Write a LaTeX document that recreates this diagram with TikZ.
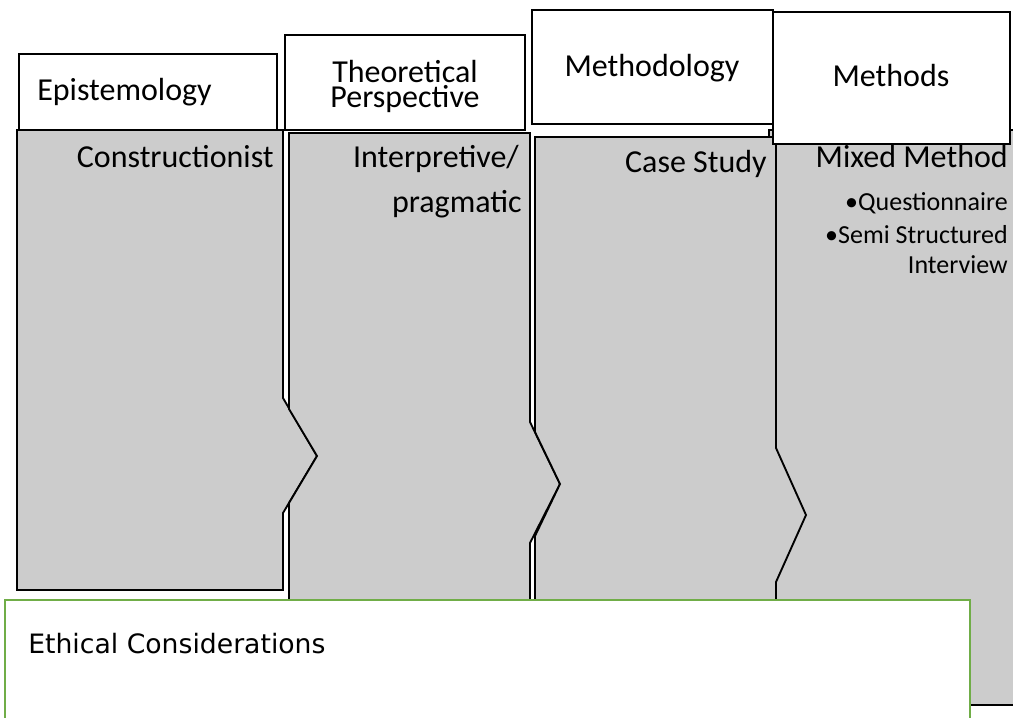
\documentclass[tikz,border=0pt]{standalone}
\usepackage{fontspec}
\setmainfont{Carlito}
\newfontfamily\ethfont{DejaVu Sans}
\definecolor{colgray}{HTML}{CCCCCC}
\definecolor{ethgreen}{HTML}{70AD47}

\begin{document}
\begin{tikzpicture}[x=0.75pt, y=-0.75pt,
    column/.style={fill=colgray, draw=black, line width=1.4pt, line join=miter},
    header/.style={fill=white, draw=black, line width=1.4pt},
    ethbox/.style={fill=white, draw=ethgreen, line width=1.4pt},
    lbl/.style={inner sep=0pt, font=\fontsize{24}{29}\selectfont},
    item/.style={inner sep=0pt, font=\fontsize{19.5}{22.5}\selectfont},
    ethlbl/.style={inner sep=0pt, font=\ethfont\fontsize{20}{24}\selectfont}]
    \useasboundingbox (0,0) rectangle (1013,717);
    \clip (0,0) rectangle (1013,717);

    % Draw the grey columns, back one first
    \draw[column] (769,130) -- (1030,130) -- (1030,705) -- (769,705) -- cycle;
    \draw[column] (17,130) -- (283,130) -- (283,398) -- (317,456) -- (283,513)
        -- (283,590) -- (17,590) -- cycle;
    \draw[column] (289,133) -- (530,133) -- (530,422) -- (560,484) -- (530,543)
        -- (530,620) -- (289,620) -- (289,503) -- (317,456) -- (289,409) -- cycle;
    \draw[column] (535,137) -- (776,137) -- (776,448) -- (806,515) -- (776,582)
        -- (776,620) -- (535,620) -- (535,536) -- (560,484) -- (535,432) -- cycle;

    % Label each column
    \node[lbl, anchor=base east] (constructionist) at (274,167) {Constructionist};
    \node[lbl, anchor=base east] (interpretive) at (519,167) {Interpretive/};
    \node[lbl, anchor=base east] (pragmatic) at (522,212) {pragmatic};
    \node[lbl, anchor=base east] (casestudy) at (767,172) {Case Study};
    \node[lbl, anchor=base east] (mixedmethod) at (1008,167) {Mixed Method};
    \node[item, anchor=base east] (questionnaire) at (1008,210) {•Questionnaire};
    \node[item, anchor=base east, align=right] (semistructured) at (1008,273)
        {•Semi Structured\\Interview};

    % Draw the header boxes
    \draw[header] (19,54) rectangle (277,130);
    \draw[header] (285,35) rectangle (525,130);
    \draw[header] (532,10) rectangle (773,124);
    \draw[header] (773,12) rectangle (1010,144);

    % Label each header
    \node[lbl, anchor=base west] (epistemology) at (37,100) {Epistemology};
    \node[lbl, anchor=base, align=center, font=\fontsize{24}{19}\selectfont]
        (theoretical) at (405,108) {Theoretical\\Perspective};
    \node[lbl, anchor=base] (methodology) at (652,77) {Methodology};
    \node[lbl, anchor=base] (methods) at (891,87) {Methods};

    % Ethical considerations along the bottom
    \draw[ethbox] (5,600) rectangle (970,740);
    \node[ethlbl, anchor=base west] (ethical) at (28,653) {Ethical Considerations};
\end{tikzpicture}
\end{document}
